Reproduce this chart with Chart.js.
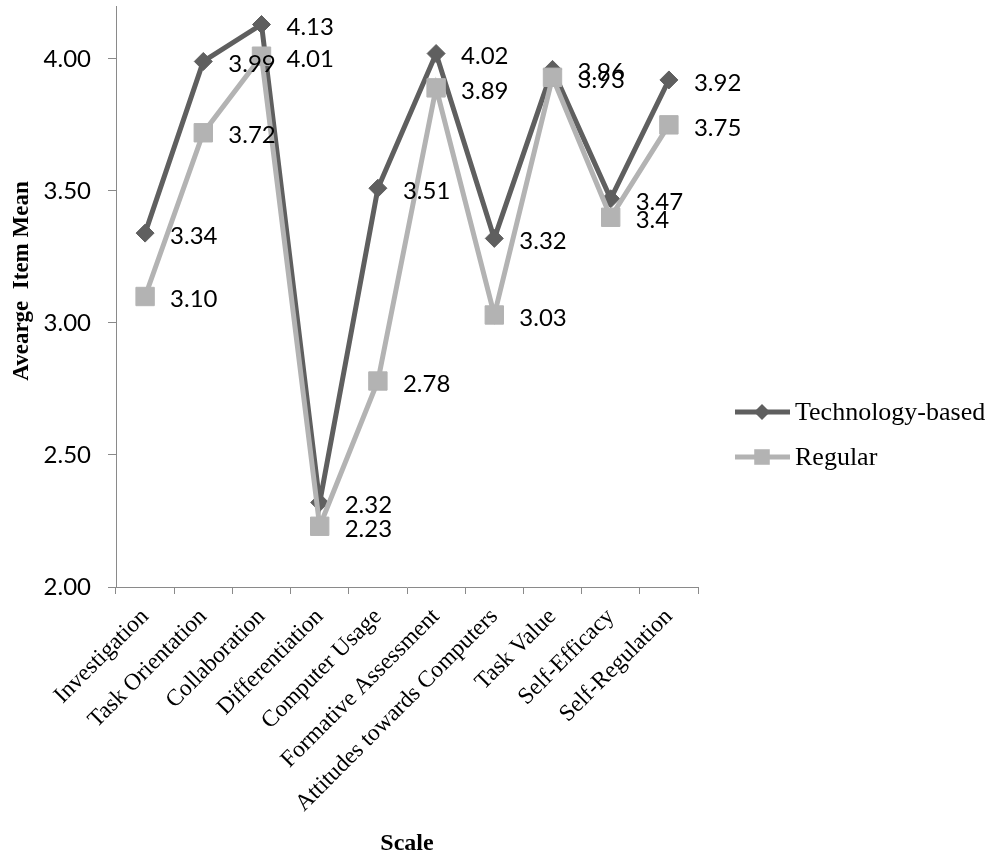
<!DOCTYPE html>
<html>
<head>
<meta charset="utf-8">
<script src="https://cdn.jsdelivr.net/npm/chart.js@4.4.0/dist/chart.umd.min.js"></script>
<style>
  body { margin: 0; background: #fff; overflow: hidden; }
  #wrap { width: 995px; height: 859px; position: relative; }
</style>
</head>
<body>
<div id="wrap"><canvas id="meanChart"></canvas></div>
<script>
// data
const scaleNames = ['Investigation', 'Task Orientation', 'Collaboration', 'Differentiation', 'Computer Usage',
  'Formative Assessment', 'Attitudes towards Computers', 'Task Value', 'Self-Efficacy', 'Self-Regulation'];
const techBased = [3.34, 3.99, 4.13, 2.32, 3.51, 4.02, 3.32, 3.96, 3.47, 3.92];
const regular = [3.10, 3.72, 4.01, 2.23, 2.78, 3.89, 3.03, 3.93, 3.40, 3.75];
const techLabels = ['3.34', '3.99', '4.13', '2.32', '3.51', '4.02', '3.32', '3.96', '3.47', '3.92'];
const regularLabels = ['3.10', '3.72', '4.01', '2.23', '2.78', '3.89', '3.03', '3.93', '3.4', '3.75'];
const yTicks = [2.0, 2.5, 3.0, 3.5, 4.0];

const darkGray = '#5f5f5f';
const lightGray = '#b3b3b3';
const axisGray = '#8a8a8a';
const serif = '"Liberation Serif", "Times New Roman", serif';
const sans = 'Lato, "Open Sans", sans-serif';

// value labels next to each point
const valueLabels = {
  id: 'valueLabels',
  afterDatasetsDraw(chart) {
    const c = chart.ctx;
    const all = [techLabels, regularLabels];
    c.save();
    c.font = '24px ' + sans;
    c.fillStyle = '#000';
    c.textAlign = 'left';
    c.textBaseline = 'middle';
    chart.data.datasets.forEach(function (ds, i) {
      chart.getDatasetMeta(i).data.forEach(function (pt, j) {
        c.fillText(all[i][j], pt.x + 25, pt.y + 3);
      });
    });
    c.restore();
  }
};

// axis titles + legend on the right
const extras = {
  id: 'extras',
  afterDraw(chart) {
    const c = chart.ctx;
    const area = chart.chartArea;
    c.save();
    c.fillStyle = '#000';
    c.textAlign = 'center';
    c.textBaseline = 'middle';
    c.font = 'bold 24px ' + serif;
    c.fillText('Scale', (area.left + area.right) / 2, 844);

    c.translate(22, 281);
    c.rotate(-Math.PI / 2);
    c.font = 'bold 23px ' + serif;
    c.fillText('Avearge  Item Mean', 0, 0);
    c.restore();

    c.save();
    chart.data.datasets.forEach(function (ds, i) {
      const y = 412 + i * 45;
      c.strokeStyle = ds.borderColor;
      c.fillStyle = ds.borderColor;
      c.lineWidth = 5;
      c.beginPath();
      c.moveTo(735, y);
      c.lineTo(790, y);
      c.stroke();
      Chart.helpers.drawPoint(c, {
        pointStyle: ds.pointStyle,
        radius: i === 0 ? 8 : 11,
        borderWidth: 0,
        rotation: 0
      }, 762, y);
      c.fillStyle = '#000';
      c.font = '26px ' + serif;
      c.textAlign = 'left';
      c.textBaseline = 'middle';
      c.fillText(ds.label, 795, y + 1);
    });
    c.restore();
  }
};

const ctx = document.getElementById('meanChart');

new Chart(ctx, {
  type: 'line',
  data: {
    labels: scaleNames,
    datasets: [{
      label: 'Technology-based',
      data: techBased,
      borderColor: darkGray,
      backgroundColor: darkGray,
      borderWidth: 5,
      pointStyle: 'rectRot',
      pointRadius: 9,
      pointBorderWidth: 1,
      order: 1
    }, {
      label: 'Regular',
      data: regular,
      borderColor: lightGray,
      backgroundColor: lightGray,
      borderWidth: 5,
      pointStyle: 'rect',
      pointRadius: 13,
      pointBorderWidth: 1,
      order: 0
    }]
  },
  options: {
    responsive: true,
    maintainAspectRatio: false,
    animation: false,
    // no auto padding for the big markers, plot area is placed by hand
    layout: { autoPadding: false, padding: { top: 6, right: 297, left: 0, bottom: 0 } },
    plugins: {
      legend: { display: false },
      tooltip: { enabled: false }
    },
    scales: {
      x: {
        offset: true,
        grid: { offset: true, drawOnChartArea: false, color: axisGray, tickLength: 7 },
        border: { color: axisGray, width: 1 },
        ticks: {
          autoSkip: false,
          maxRotation: 45,
          minRotation: 45,
          padding: 9,
          color: '#000',
          font: { family: serif, size: 23.5 }
        },
        afterFit: function (s) {
          s.height = 272;
          s.paddingLeft = 0;
          s.paddingRight = 0;
        }
      },
      y: {
        min: 2,
        max: 4.2,
        grid: { drawOnChartArea: false, color: axisGray, tickLength: 8 },
        border: { color: axisGray, width: 1 },
        ticks: {
          stepSize: 0.5,
          padding: 17,
          color: '#000',
          font: { family: sans, size: 24 },
          callback: function (v) { return v.toFixed(2); }
        },
        afterBuildTicks: function (s) {
          s.ticks = yTicks.map(function (v) { return { value: v }; });
        },
        afterFit: function (s) {
          s.width = 116;
          s.paddingTop = 0;
          s.paddingBottom = 0;
        }
      }
    }
  },
  plugins: [valueLabels, extras]
});
</script>
</body>
</html>
